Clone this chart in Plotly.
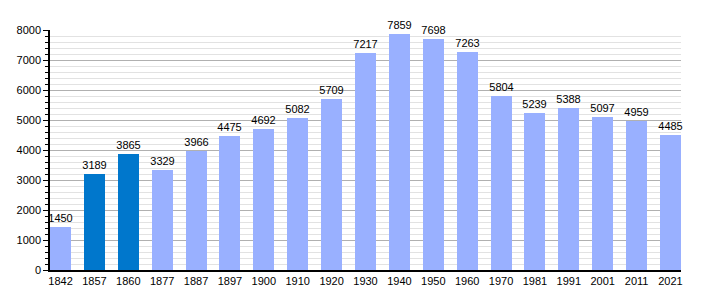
import plotly.graph_objects as go

years = ["1842", "1857", "1860", "1877", "1887", "1897", "1900", "1910", "1920", "1930",
         "1940", "1950", "1960", "1970", "1981", "1991", "2001", "2011", "2021"]
population = [1450, 3189, 3865, 3329, 3966, 4475, 4692, 5082, 5709, 7217,
              7859, 7698, 7263, 5804, 5239, 5388, 5097, 4959, 4485]
highlight = ["1857", "1860"]

light = "#99b0ff"
dark = "#0077cc"
colors = [dark if y in highlight else light for y in years]

bar_w = 0.62
fig = go.Figure(go.Bar(
    x=years, y=population,
    marker=dict(color=colors, line=dict(width=0)),
    width=bar_w,
    text=[str(v) for v in population],
    textposition="outside",
    constraintext="none",
    textfont=dict(family="Liberation Sans, Arial", size=11, color="#000"),
    cliponaxis=False,
))

fig.update_layout(
    width=710, height=300,
    margin=dict(l=50, r=29, t=30, b=30),
    paper_bgcolor="white", plot_bgcolor="white",
    font=dict(family="Liberation Sans, Arial", size=11, color="#000"),
    showlegend=False,
    bargap=0,
)
fig.update_xaxes(
    type="category",
    range=[-bar_w / 2, len(years) - 1 + bar_w / 2],
    showgrid=False, showline=True, linecolor="#000", linewidth=1.5,
    ticks="", tickfont=dict(size=11),
)
fig.update_yaxes(
    range=[0, 8000], dtick=1000,
    showgrid=True, gridcolor="#b0b0b0", gridwidth=1,
    showline=True, linecolor="#000", linewidth=1.5,
    ticks="outside", ticklen=5, tickcolor="#000",
    minor=dict(dtick=200, showgrid=True, gridcolor="#e2e2e2", gridwidth=1,
               ticks="outside", ticklen=3, tickcolor="#000"),
    zeroline=False, tickfont=dict(size=11),
)

fig.write_html("out.html")
